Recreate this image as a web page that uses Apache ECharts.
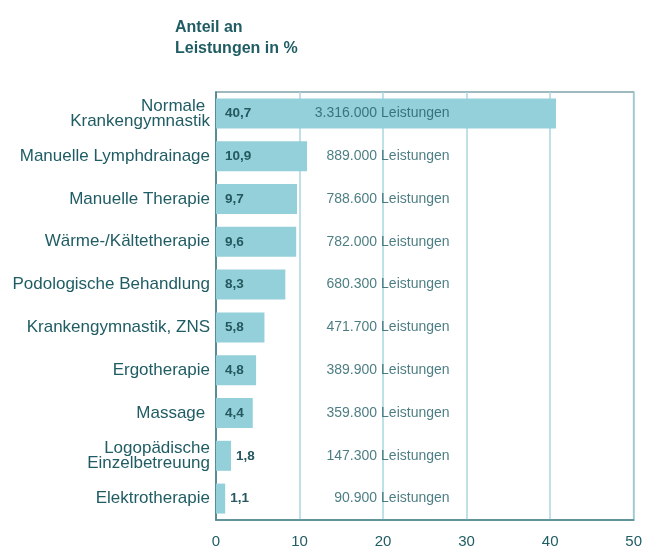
<!DOCTYPE html>
<html>
<head>
<meta charset="utf-8">
<script src="https://cdn.jsdelivr.net/npm/echarts@6/dist/echarts.min.js"></script>
<style>html,body{margin:0;padding:0;background:#fff;}#c{width:645px;height:549px;}</style>
</head>
<body>
<div id="c"></div>
<script>
var categories = ['Normale \nKrankengymnastik', 'Manuelle Lymphdrainage', 'Manuelle Therapie', 'Wärme-/Kältetherapie', 'Podologische Behandlung', 'Krankengymnastik, ZNS', 'Ergotherapie', 'Massage ', 'Logopädische\nEinzelbetreuung', 'Elektrotherapie'];
var shares = [40.7, 10.9, 9.7, 9.6, 8.3, 5.8, 4.8, 4.4, 1.8, 1.1];
var counts = ['3.316.000', '889.000', '788.600', '782.000', '680.300', '471.700', '389.900', '359.800', '147.300', '90.900'];
var xTicks = [0, 10, 20, 30, 40, 50];
var countAnchor = 20;

var TEXT = '#1f5c63';
var FONT = "'Liberation Sans', Arial, sans-serif";

var chart = echarts.init(document.getElementById('c'), null, {renderer: 'canvas'});

var barData = shares.map(function (v) {
  var small = v < 3;
  return {
    value: v,
    label: {
      position: small ? 'right' : 'insideLeft',
      distance: small ? 5 : 9
    }
  };
});

chart.setOption({
  animation: false,
  title: {
    text: 'Anteil an\nLeistungen in %',
    left: 170,
    top: 12,
    textStyle: {color: TEXT, fontFamily: FONT, fontWeight: 'bold', fontSize: 16, lineHeight: 21}
  },
  grid: {
    left: 216, right: 10, top: 92, bottom: 27,
    show: true, borderColor: '#7fa3a8', borderWidth: 1.5, backgroundColor: 'transparent'
  },
  xAxis: {
    type: 'value', min: xTicks[0], max: xTicks[xTicks.length - 1], interval: 10,
    axisLine: {show: true, lineStyle: {color: '#4f8a91', width: 1.5}},
    axisTick: {show: false},
    splitLine: {show: true, lineStyle: {color: '#a8d6de', width: 1.5}},
    axisLabel: {color: TEXT, fontFamily: FONT, fontSize: 15, margin: 14,
      customValues: xTicks}
  },
  yAxis: {
    type: 'category', inverse: true, data: categories,
    axisLine: {show: true, lineStyle: {color: '#3d7880', width: 1.5}},
    axisTick: {show: false},
    axisLabel: {color: TEXT, fontFamily: FONT, fontSize: 17, lineHeight: 15, margin: 6}
  },
  series: [
    {
      type: 'bar', data: barData, barWidth: 30,
      itemStyle: {color: '#93d0d9'},
      label: {show: true, color: '#24585e', fontFamily: FONT, fontWeight: 'bold', fontSize: 13.5,
        formatter: function (p) { return String(p.value).replace('.', ','); }}
    },
    {
      type: 'scatter', symbolSize: 0, silent: true,
      data: categories.map(function (c, i) { return [countAnchor, i]; }),
      label: {show: true, position: 'left', distance: 0, offset: [-6, 0], color: TEXT,
        fontFamily: FONT, fontSize: 14,
        formatter: function (p) { return counts[p.dataIndex]; }}
    },
    {
      type: 'scatter', symbolSize: 0, silent: true,
      data: categories.map(function (c, i) { return [countAnchor, i]; }),
      label: {show: true, position: 'right', distance: 0, offset: [-2, 0], color: TEXT,
        fontFamily: FONT, fontSize: 14, formatter: 'Leistungen'}
    }
  ]
});
</script>
</body>
</html>
